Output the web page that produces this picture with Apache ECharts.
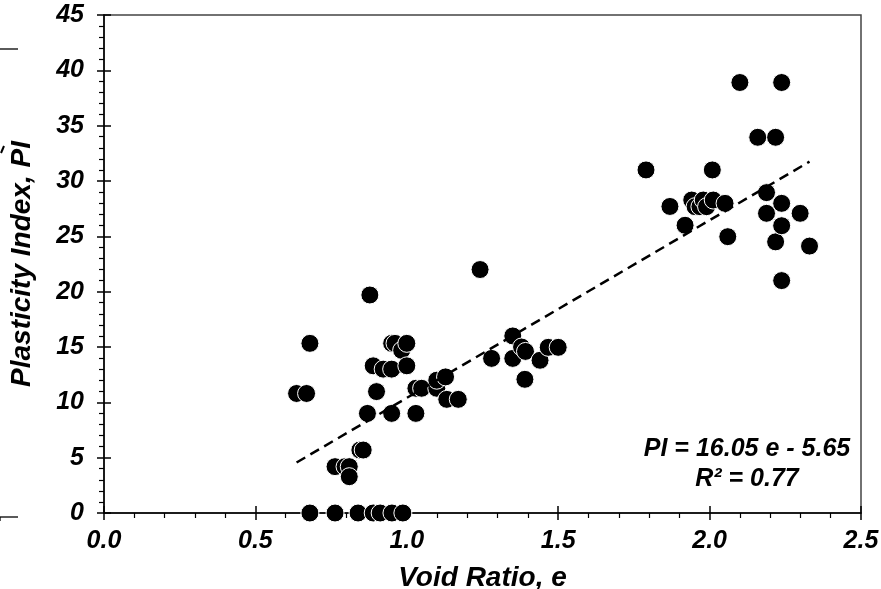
<!DOCTYPE html>
<html>
<head>
<meta charset="utf-8">
<script src="https://cdn.jsdelivr.net/npm/echarts@6/dist/echarts.min.js"></script>
<style>
html,body{margin:0;padding:0;background:#fff;}
#chart{width:881px;height:589px;}
</style>
</head>
<body>
<div id="chart"></div>
<script>
// Data
var voidRatio = [
  0.680, 0.763, 0.839, 0.889, 0.912, 0.951, 0.987,
  0.636, 0.669, 0.680, 0.763, 0.796, 0.810, 0.810, 0.845, 0.856, 0.870, 0.878, 0.889, 0.900,
  0.922, 0.950, 0.950, 0.950, 0.961, 0.983, 1.000, 1.000, 1.030, 1.030, 1.049, 1.099, 1.099,
  1.128, 1.132, 1.170, 1.242, 1.280, 1.350, 1.350, 1.379, 1.392, 1.390, 1.440, 1.467, 1.500,
  1.790, 1.869, 1.919, 1.941, 1.952, 1.968, 1.979, 1.990, 2.009, 2.012, 2.051, 2.060, 2.100,
  2.159, 2.188, 2.188, 2.218, 2.218, 2.238, 2.238, 2.238, 2.238, 2.299, 2.330
];
var plasticityIndex = [
  0, 0, 0, 0, 0, 0, 0,
  10.8, 10.8, 15.33, 4.19, 4.19, 4.19, 3.28, 5.69, 5.69, 9.0, 19.7, 13.3, 10.97,
  13.0, 13.0, 9.0, 15.33, 15.33, 14.7, 15.33, 13.3, 9.0, 11.27, 11.27, 11.27, 12.0,
  12.3, 10.27, 10.27, 22.0, 13.97, 16.0, 13.97, 15.0, 14.6, 12.08, 13.8, 14.97, 14.97,
  31.0, 27.7, 26.0, 28.28, 27.68, 27.68, 28.28, 27.68, 31.0, 28.28, 27.98, 24.97, 38.9,
  33.95, 28.95, 27.08, 33.95, 24.5, 38.9, 27.98, 25.96, 21.0, 27.08, 24.12
];
// Trend line end points (PI = 16.05 e - 5.65)
var trendX = [0.636, 2.330];
var trendY = [4.56, 31.75];
var equationText = ['PI = 16.05 e - 5.65', 'R² = 0.77'];
var xTitle = 'Void Ratio, e';
var yTitle = 'Plasticity Index, PI';

var pts = voidRatio.map(function (x, i) { return [x, plasticityIndex[i]]; });
var trend = trendX.map(function (x, i) { return [x, trendY[i]]; });

var FONT = '"Liberation Sans", Arial, sans-serif';
var labelStyle = { color: '#000', fontSize: 25, fontWeight: 'bold', fontStyle: 'italic', fontFamily: FONT };
var nameStyle = { color: '#000', fontSize: 28, fontWeight: 'bold', fontStyle: 'italic', fontFamily: FONT };

var chart = echarts.init(document.getElementById('chart'), null, { renderer: 'canvas' });
chart.setOption({
  animation: false,
  backgroundColor: '#fff',
  grid: { left: 104, right: 20, top: 15, bottom: 76, containLabel: false, outerBoundsMode: 'none',
          show: true, borderColor: '#444', borderWidth: 1.5, backgroundColor: 'transparent' },
  xAxis: [{
    type: 'value', min: 0, max: 2.5, interval: 0.5, position: 'bottom',
    axisLine: { show: true, onZero: false, lineStyle: { color: '#000', width: 1.5 } },
    axisTick: { show: true, inside: false, length: 7, lineStyle: { color: '#000', width: 1.5 } },
    minorTick: { show: true, splitNumber: 5, length: 5, lineStyle: { color: '#000', width: 1.2 } },
    splitLine: { show: false },
    axisLabel: Object.assign({ margin: 16, formatter: function (v) { return v.toFixed(1); } }, labelStyle),
    name: xTitle, nameLocation: 'middle', nameGap: 51, nameTextStyle: nameStyle
  }, {
    type: 'value', min: 0, max: 2.5, interval: 0.5, position: 'bottom',
    axisLine: { show: false },
    axisTick: { show: true, inside: true, length: 7, lineStyle: { color: '#000', width: 1.5 } },
    splitLine: { show: false }, axisLabel: { show: false }
  }],
  yAxis: [{
    type: 'value', min: 0, max: 45, interval: 5, position: 'left',
    axisLine: { show: true, onZero: false, lineStyle: { color: '#000', width: 1.5 } },
    axisTick: { show: true, inside: false, length: 7, lineStyle: { color: '#000', width: 1.5 } },
    minorTick: { show: true, splitNumber: 5, length: 5, lineStyle: { color: '#000', width: 1.2 } },
    splitLine: { show: false },
    axisLabel: Object.assign({ margin: 20 }, labelStyle),
    name: yTitle, nameLocation: 'middle', nameGap: 68, nameTextStyle: nameStyle
  }, {
    type: 'value', min: 0, max: 45, interval: 5, position: 'left',
    axisLine: { show: false },
    axisTick: { show: true, inside: true, length: 7, lineStyle: { color: '#000', width: 1.5 } },
    splitLine: { show: false }, axisLabel: { show: false }
  }],
  series: [{
    type: 'scatter', xAxisIndex: 0, yAxisIndex: 0, data: pts,
    symbol: 'circle', symbolSize: 18,
    itemStyle: { color: '#000', borderColor: '#fff', borderWidth: 1, opacity: 1 },
    z: 3
  }, {
    type: 'line', xAxisIndex: 0, yAxisIndex: 0, data: trend,
    showSymbol: false, symbol: 'none',
    lineStyle: { color: '#000', width: 2.5, type: [10, 6] },
    z: 4
  }],
  graphic: [
    { type: 'text', x: 747, y: 434, z: 10,
      style: { text: equationText.join('\n'), fill: '#000', font: 'italic bold 25px ' + FONT, align: 'center', lineHeight: 30 } },
    { type: 'line', shape: { x1: 0, y1: 49, x2: 18, y2: 49 }, style: { stroke: '#000', lineWidth: 1.3 } },
    { type: 'line', shape: { x1: 0, y1: 517, x2: 18, y2: 517 }, style: { stroke: '#000', lineWidth: 1.3 } },
    { type: 'line', shape: { x1: 0, y1: 521, x2: 0, y2: 517 }, style: { stroke: '#000', lineWidth: 1.3 } },
    { type: 'line', shape: { x1: 1, y1: 153, x2: 4, y2: 146 }, style: { stroke: '#000', lineWidth: 2 } }
  ]
});
</script>
</body>
</html>
